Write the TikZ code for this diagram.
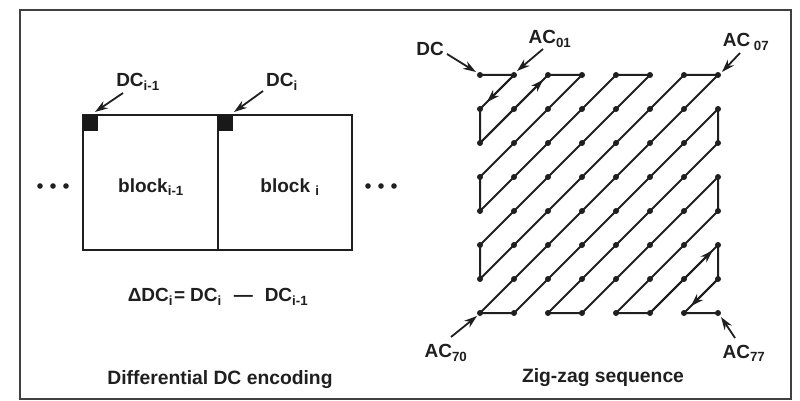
\documentclass[tikz,border=0pt]{standalone}
\usepackage{fontspec}
\setmainfont{Liberation Sans}
\usetikzlibrary{arrows.meta,calc}
\begin{document}
\begin{tikzpicture}[x=1pt,y=-1pt,
  lbl/.style={font=\bfseries\fontsize{19}{21}\selectfont, inner sep=0pt, text=black!88},
  captxt/.style={font=\bfseries\fontsize{19.3}{21}\selectfont, inner sep=0pt, text=black!88},
  frame/.style={draw=black!75, line width=2.4pt},
  blockbox/.style={draw=black!88, line width=2.3pt},
  zig/.style={draw=black!88, line width=2pt, line join=round},
  ptr/.style={draw=black!88, line width=1.8pt, -{Stealth[length=13pt,width=8.5pt]}},
  dot/.style={fill=black!88}
]
\useasboundingbox (0,0) rectangle (800,401);
\draw[frame] (20,10) rectangle (791,399);

% ---------- left part ----------
\coordinate (b1tl) at (83,115);
\coordinate (b1br) at (218,250);
\coordinate (b2tl) at (218,115);
\coordinate (b2br) at (352,250);
\draw[blockbox] (b1tl) rectangle (b1br);
\draw[blockbox] (b2tl) rectangle (b2br);
\fill[black!90] (83,115) rectangle (98,131);
\fill[black!90] (218,115) rectangle (233,131);

\node[lbl] (blk1) at (151,187) {block\textsubscript{i-1}};
\node[lbl] (blk2) at (290,187) {block \textsubscript{i}};

\foreach \x in {40,53,66,368,381,394} \fill[dot] (\x,186) circle (2.8);

\node[lbl] (dcim) at (138,82) {DC\textsubscript{i-1}};
\node[lbl] (dci) at (282,82) {DC\textsubscript{i}};
\coordinate (dcimtail) at (123,93);
\coordinate (dcimtip) at (95,112);
\coordinate (dcitail) at (263,91);
\coordinate (dcitip) at (234,112);
\draw[ptr] (dcimtail) -- (dcimtip);
\draw[ptr] (dcitail) -- (dcitip);

\node[lbl] (eq) at (218,297) {ΔDC\textsubscript{i}\hspace{1pt}=\hspace{5pt}DC\textsubscript{i}\hspace{12pt}—\hspace{12pt}DC\textsubscript{i-1}};
\node[captxt] (capl) at (220,380) {Differential DC encoding};

% ---------- right part: zig-zag ----------
\foreach \r in {0,...,7}
  \foreach \c in {0,...,7}
    \coordinate (g\r\c) at ({480+34*\c},{75+34*\r});

\draw[zig] (g00) -- (g01) -- (g10) -- (g20) -- (g02) -- (g03) -- (g30) -- (g40)
  -- (g04) -- (g05) -- (g50) -- (g60) -- (g06) -- (g07) -- (g70) -- (g71)
  -- (g17) -- (g27) -- (g72) -- (g73) -- (g37) -- (g47) -- (g74) -- (g75)
  -- (g57) -- (g67) -- (g76) -- (g77);

\foreach \r in {0,...,7}
  \foreach \c in {0,...,7}
    \fill[dot] (g\r\c) circle (3);

\draw[ptr] (g01) -- ($(g01)!0.8!(g10)$);
\draw[ptr] (g20) -- ($(g20)!0.93!(g02)$);
\draw[ptr] (g75) -- ($(g75)!0.92!(g57)$);
\draw[ptr] (g67) -- ($(g67)!0.8!(g76)$);

\node[lbl] (dc) at (430,49) {DC};
\node[lbl] (ac01) at (550,39) {AC\textsubscript{01}};
\node[lbl] (ac07) at (746,42) {AC\textsubscript{ 07}};
\node[lbl] (ac70) at (446,353) {AC\textsubscript{70}};
\node[lbl] (ac77) at (744,353) {AC\textsubscript{77}};

\coordinate (dctail) at (447,54);
\coordinate (ac01tail) at (543,49);
\coordinate (ac07tail) at (740,53);
\coordinate (ac70tail) at (451,337);
\coordinate (ac77tail) at (735,338);
\draw[ptr] (dctail) -- ($(g00)+(-4,-3)$);
\draw[ptr] (ac01tail) -- ($(g01)+(3,-4)$);
\draw[ptr] (ac07tail) -- ($(g07)+(4,-3)$);
\draw[ptr] (ac70tail) -- ($(g70)+(-3,3)$);
\draw[ptr] (ac77tail) -- ($(g77)+(3,4)$);

\node[captxt] (capr) at (603,378) {Zig-zag sequence};
\end{tikzpicture}
\end{document}
